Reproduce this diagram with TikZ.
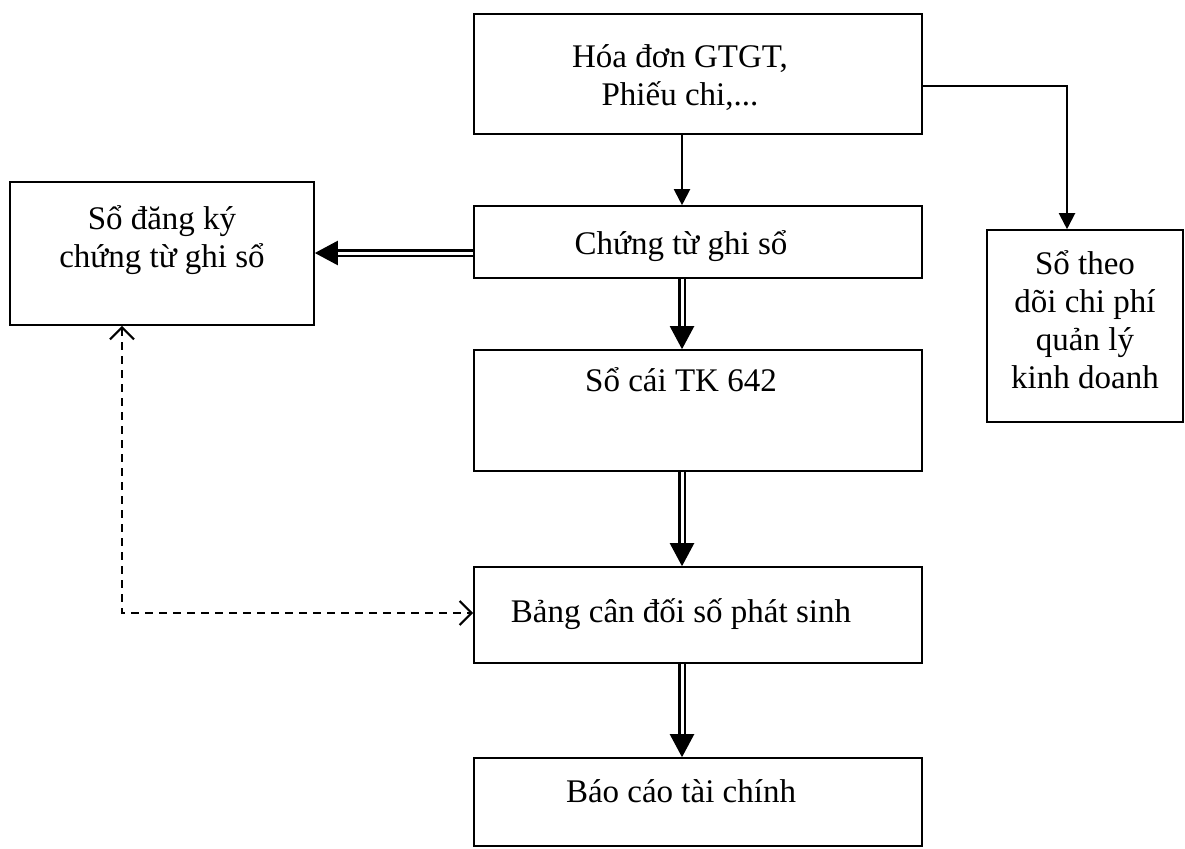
\documentclass[tikz,border=0pt]{standalone}
\usepackage{fontspec}
\setmainfont{Liberation Serif}
\usetikzlibrary{arrows.meta}
\tikzset{openbarb/.tip={Straight Barb[length=12pt,width=24pt,line width=2.2pt]}}
\begin{document}
\begin{tikzpicture}[x=1pt,y=-1pt,
  box/.style={draw, line width=1.6pt, rectangle, inner sep=0pt},
  txt/.style={inner sep=0pt, align=center, font=\fontsize{33}{38}\selectfont},
  arr/.style={line width=2pt, -{Triangle[length=16pt,width=16pt]}},
  dblarr/.style={double, double distance=3pt, line width=2.2pt, -{Triangle[length=23pt,width=24pt]}},
  dasharr/.style={line width=2pt, dash pattern=on 8pt off 6pt, {openbarb}-{openbarb}}
]
\path[use as bounding box] (0,0) rectangle (1185,848);

% boxes of the main column
\node[box, minimum width=448pt, minimum height=120pt] (hd)   at (698,74)    {};
\node[box, minimum width=448pt, minimum height=72pt]  (ctgs) at (698,242)   {};
\node[box, minimum width=448pt, minimum height=121pt] (soc)  at (698,410.5) {};
\node[box, minimum width=448pt, minimum height=96pt]  (bcd)  at (698,615)   {};
\node[box, minimum width=448pt, minimum height=88pt]  (bctc) at (698,802)   {};
% side boxes
\node[box, minimum width=304pt, minimum height=143pt] (sdk)  at (162,253.5) {};
\node[box, minimum width=196pt, minimum height=192pt] (sdt)  at (1085,326)  {};

% texts
\node[txt] (hdT)   at (680,78)  {Hóa đơn GTGT,\\Phiếu chi,...};
\node[txt] (ctgsT) at (681,246) {Chứng từ ghi sổ};
\node[txt] (socT)  at (681,380) {Sổ cái TK 642};
\node[txt] (bcdT)  at (681,614) {Bảng cân đối số phát sinh};
\node[txt] (bctcT) at (681,791) {Báo cáo tài chính};
\node[txt] (sdkT)  at (162,240) {Sổ đăng ký\\chứng từ ghi sổ};
\node[txt] (sdtT)  at (1085,320) {Sổ theo\\dõi chi phí\\quản lý\\kinh doanh};

% routing points
\coordinate (ax) at (682,0);
\coordinate (ay) at (0,253);
\coordinate (br) at (1067,86);
\coordinate (dc) at (122,613);

% connectors
\draw[arr] (hd.south -| ax) -- (ctgs.north -| ax);
\draw[arr] (hd.east |- br) -- (br) -- (br |- sdt.north);
\draw[dblarr] (ctgs.west |- ay) -- (sdk.east |- ay);
\draw[dblarr] (ctgs.south -| ax) -- (soc.north -| ax);
\draw[dblarr] (soc.south -| ax) -- (bcd.north -| ax);
\draw[dblarr] (bcd.south -| ax) -- (bctc.north -| ax);
\draw[dasharr] (sdk.south -| dc) -- (dc) -- (bcd.west |- dc);
\end{tikzpicture}
\end{document}
